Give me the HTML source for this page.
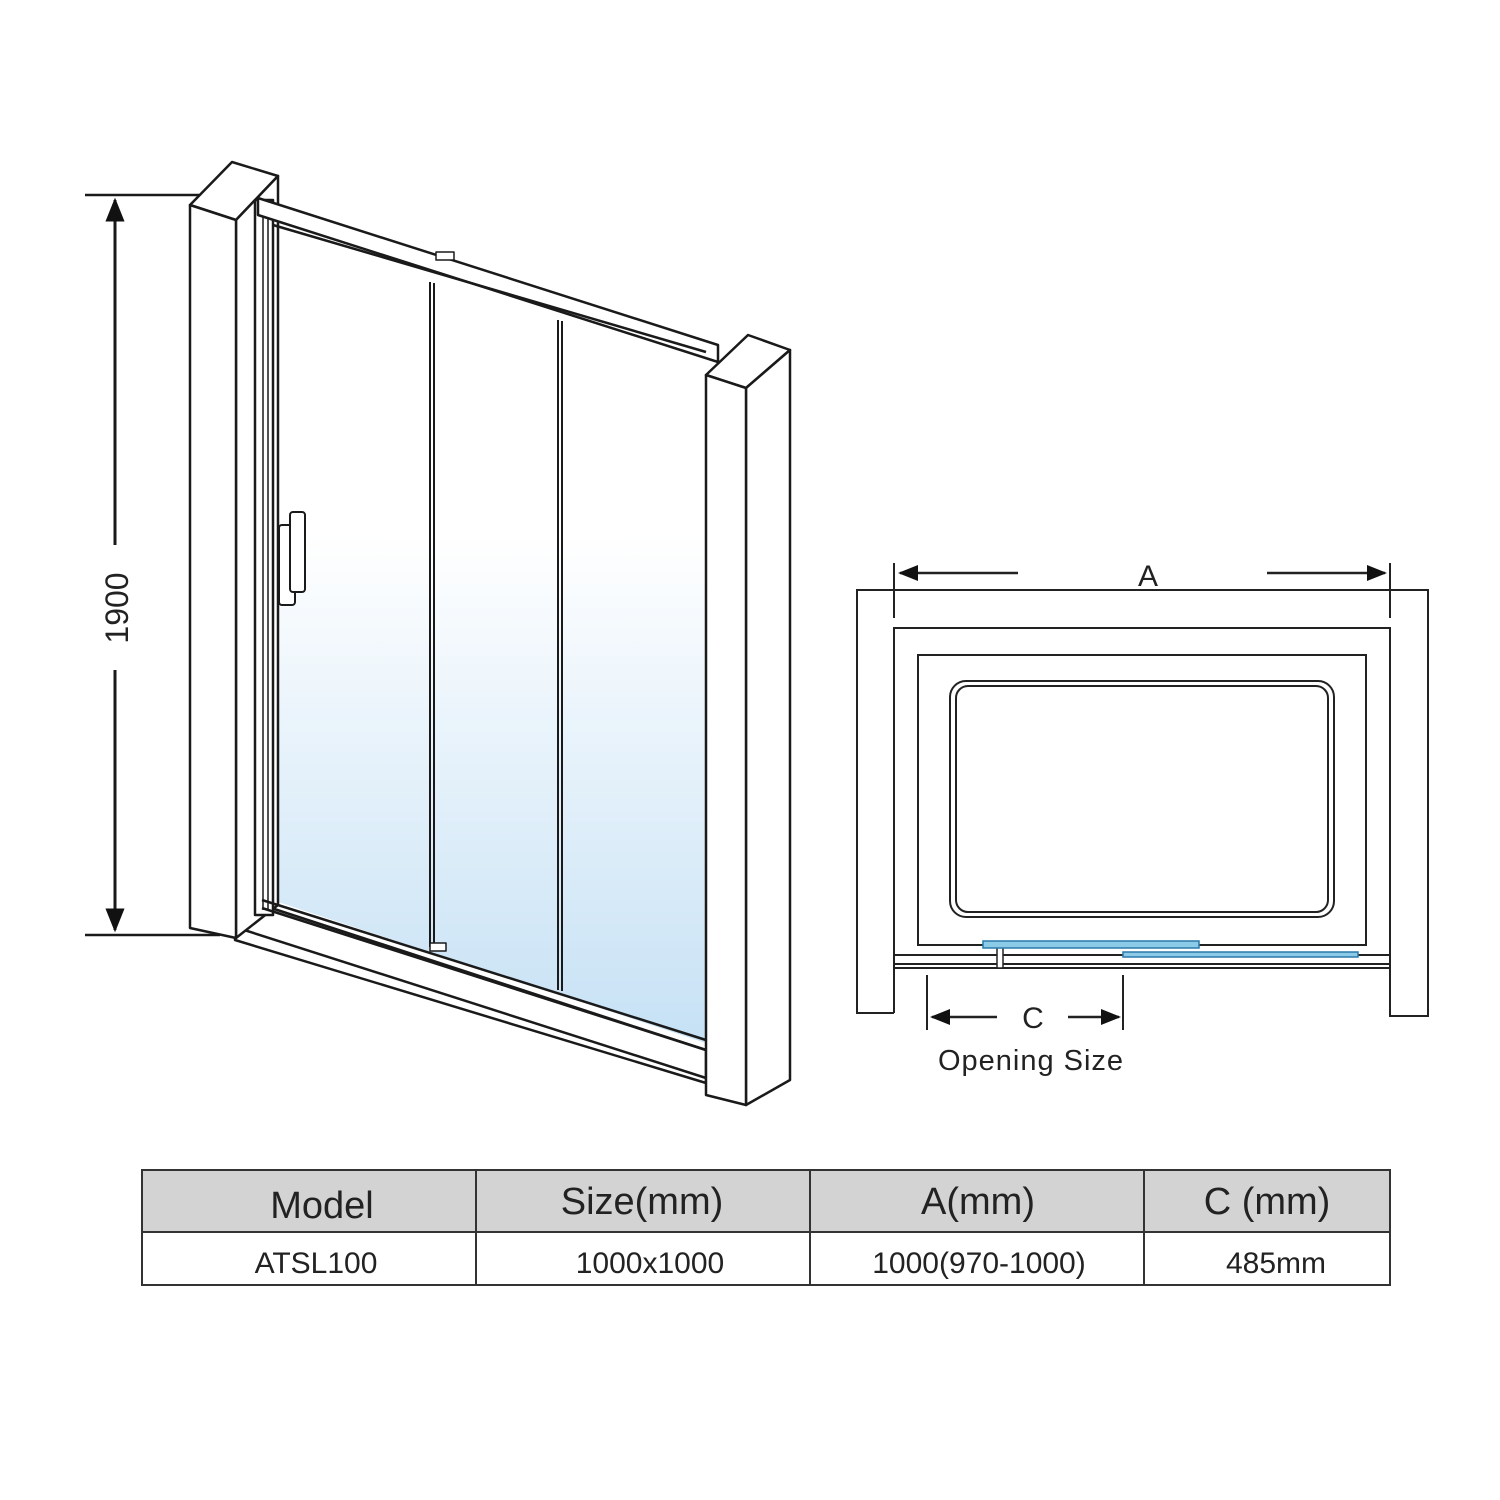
<!DOCTYPE html>
<html><head><style>
html,body{margin:0;padding:0;background:#fff;}
svg{display:block}
text{font-family:"Liberation Sans",sans-serif;fill:#222}
</style></head><body>
<svg width="1500" height="1500" viewBox="0 0 1500 1500" xmlns="http://www.w3.org/2000/svg">
<defs>
<linearGradient id="g" x1="0" y1="0" x2="0" y2="1">
<stop offset="0" stop-color="#ffffff"/><stop offset="0.38" stop-color="#ffffff"/><stop offset="1" stop-color="#c6e1f5"/>
</linearGradient>
<marker id="ar" viewBox="0 0 10 10" refX="9" refY="5" markerWidth="8" markerHeight="8" orient="auto-start-reverse"><path d="M0,1 L10,5 L0,9 z" fill="#111"/></marker>
</defs>
<rect width="1500" height="1500" fill="#fff"/>
<g stroke="#1a1a1a" stroke-width="2.5" fill="none" stroke-linejoin="round">
<line x1="85" y1="195" x2="245" y2="195"/>
<line x1="85" y1="935" x2="220" y2="935"/>
<line x1="115" y1="200" x2="115" y2="545" marker-start="url(#ar)" stroke-width="3"/>
<line x1="115" y1="670" x2="115" y2="930" marker-end="url(#ar)" stroke-width="3"/>
<polygon points="272,222 706,350 706,1043 272,900" fill="url(#g)" stroke="none"/>
<polygon points="235,925 262,905 706,1050 706,1083 235,940" fill="#fff"/>
<line x1="238" y1="928" x2="706" y2="1078"/>
<polygon points="190,205 232,162 278,176 236,220" fill="#fff"/>
<polygon points="236,220 278,176 278,905 236,938" fill="#fff"/>
<polygon points="190,205 236,220 236,938 190,928" fill="#fff"/>
<rect x="255" y="200" width="18" height="715" fill="#fff"/>
<line x1="263" y1="205" x2="263" y2="910" stroke-width="1.5"/>
<line x1="268" y1="205" x2="268" y2="910" stroke-width="1.5"/>
<polygon points="258,198 718,345 718,362 258,215" fill="#fff"/>
<line x1="273" y1="225" x2="706" y2="352"/>
<rect x="436" y="252" width="18" height="8" fill="#fff" stroke-width="1.5"/>
<line x1="262" y1="900" x2="706" y2="1040"/>
<line x1="262" y1="908" x2="706" y2="1050"/>
<line x1="430" y1="282" x2="430" y2="947" stroke-width="2"/>
<line x1="434" y1="283" x2="434" y2="948" stroke-width="2"/>
<line x1="558" y1="320" x2="558" y2="990" stroke-width="2"/>
<line x1="562" y1="321" x2="562" y2="991" stroke-width="2"/>
<rect x="430" y="943" width="16" height="8" fill="#fff" stroke-width="1.5"/>
<rect x="279" y="525" width="16" height="80" rx="3" fill="#fff" stroke-width="2"/>
<rect x="290" y="512" width="15" height="80" rx="3" fill="#fff" stroke-width="2"/>
<polygon points="706,375 748,335 790,350 746,388" fill="#fff"/>
<polygon points="746,388 790,350 790,1080 746,1105" fill="#fff"/>
<polygon points="706,375 746,388 746,1105 706,1095" fill="#fff"/>
</g>
<text x="0" y="0" font-size="32" transform="translate(128,608) rotate(-90)" text-anchor="middle">1900</text>

<g stroke="#222" stroke-width="2" fill="none">
<polyline points="894,1013 857,1013 857,590 1428,590 1428,1016 1390,1016 1390,628 894,628 894,1013"/>
<rect x="918" y="655" width="448" height="290"/>
<rect x="950" y="681" width="384" height="236" rx="16"/>
<rect x="956" y="686" width="372" height="226" rx="12"/>
<line x1="894" y1="955" x2="1390" y2="955"/>
<line x1="894" y1="964" x2="1390" y2="964"/>
<line x1="894" y1="968" x2="1390" y2="968"/>
<rect x="997" y="946" width="6" height="22" fill="#fff" stroke-width="1.5"/>
<line x1="894" y1="563" x2="894" y2="618"/>
<line x1="1390" y1="563" x2="1390" y2="618"/>
<line x1="900" y1="573" x2="1018" y2="573" marker-start="url(#ar)" stroke-width="2.5"/>
<line x1="1267" y1="573" x2="1385" y2="573" marker-end="url(#ar)" stroke-width="2.5"/>
<line x1="927" y1="975" x2="927" y2="1030"/>
<line x1="1123" y1="975" x2="1123" y2="1030"/>
<line x1="932" y1="1017" x2="997" y2="1017" marker-start="url(#ar)" stroke-width="2.5"/>
<line x1="1068" y1="1017" x2="1119" y2="1017" marker-end="url(#ar)" stroke-width="2.5"/>
</g>
<rect x="983" y="941" width="216" height="7" fill="#8ccbe8" stroke="#2a7aa8" stroke-width="1.5"/>
<rect x="1123" y="952" width="235" height="5" fill="#8ccbe8" stroke="#2a7aa8" stroke-width="1.5"/>
<text x="1148" y="586" font-size="30" text-anchor="middle">A</text>
<text x="1033" y="1028" font-size="30" text-anchor="middle">C</text>
<text x="1031" y="1070" font-size="29" text-anchor="middle" letter-spacing="1">Opening Size</text>

<rect x="142" y="1170" width="1248" height="62" fill="#d3d3d3"/>
<g stroke="#333" stroke-width="2" fill="none">
<rect x="142" y="1170" width="1248" height="115"/>
<line x1="142" y1="1232" x2="1390" y2="1232"/>
<line x1="476" y1="1170" x2="476" y2="1285"/>
<line x1="810" y1="1170" x2="810" y2="1285"/>
<line x1="1144" y1="1170" x2="1144" y2="1285"/>
</g>
<g font-size="38" text-anchor="middle">
<text x="322" y="1218">Model</text>
<text x="642" y="1214">Size(mm)</text>
<text x="978" y="1214">A(mm)</text>
<text x="1267" y="1214">C (mm)</text>
</g>
<g font-size="30" text-anchor="middle">
<text x="316" y="1273">ATSL100</text>
<text x="650" y="1273">1000x1000</text>
<text x="979" y="1273">1000(970-1000)</text>
<text x="1276" y="1273">485mm</text>
</g>
</svg>
</body></html>
